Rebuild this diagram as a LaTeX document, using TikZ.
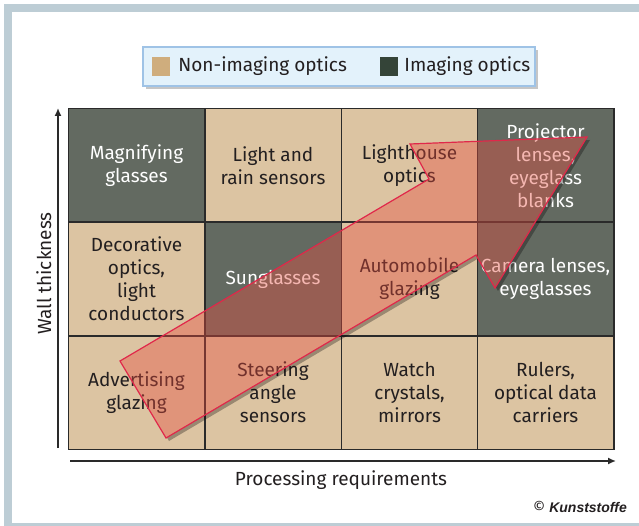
\documentclass[tikz,border=0pt]{standalone}
\usepackage{fontspec}
\setmainfont{Fira Sans}
\newfontfamily\logofont{Liberation Sans}
\usetikzlibrary{arrows.meta,positioning,shadows}
\definecolor{framegrey}{HTML}{BDCDD5}
\definecolor{cellTan}{HTML}{DCC4A2}
\definecolor{cellDark}{HTML}{636A61}
\definecolor{cellText}{HTML}{231F20}
\definecolor{gridline}{HTML}{2A2A2A}
\definecolor{swatchTan}{HTML}{CFAD7D}
\definecolor{swatchDark}{HTML}{344438}
\definecolor{legendFill}{HTML}{E3F2FB}
\definecolor{legendLine}{HTML}{9FC3E6}
\definecolor{arrowRed}{RGB}{230,76,62}
\definecolor{arrowLine}{HTML}{E0284A}
\tikzset{%
    >={Latex[length=8pt,width=7pt]},
    cell/.style={draw=gridline, line width=1.5pt, minimum width=136.5pt,
        minimum height=113.5pt, inner sep=0pt, align=center,
        font=\fontsize{19}{23}\selectfont},
    tancell/.style={cell, fill=cellTan, text=cellText},
    darkcell/.style={cell, fill=cellDark, text=white},
    swatch/.style={minimum width=18pt, minimum height=19pt, inner sep=0pt},
    legendtext/.style={inner sep=2pt, text=cellText, font=\fontsize{19}{23}\selectfont},
    axis/.style={line width=1.5pt, draw=gridline},
    axislabel/.style={text=cellText, font=\fontsize{19}{23}\selectfont}
}
\newcommand\trendpath{(120,361) -- (429,179) -- (410,144) -- (587,137) -- (495,288) -- (476,255) -- (166,438) -- cycle}

\begin{document}
\begin{tikzpicture}[x=1pt, y=-1pt]
  \useasboundingbox (0,0) rectangle (639,526);
  % frame
  \fill[framegrey] (4,4) rectangle (639,12);
  \fill[framegrey] (4,4) rectangle (12,526);
  \fill[framegrey] (4,523) rectangle (639,526);

  % legend
  \node[draw=legendLine, line width=1.5pt, fill=legendFill, minimum width=392pt, minimum height=39pt,
    drop shadow={shadow xshift=3pt, shadow yshift=-3pt, opacity=0.45}] (legend) at (339,66.5) {};
  \node[swatch, fill=swatchTan] (nonimgsw) at (161,66.5) {};
  \node[legendtext, right=6pt of nonimgsw] (nonimg) {Non-imaging optics};
  \node[swatch, fill=swatchDark] (imgsw) at (389,66.5) {};
  \node[legendtext, right=4pt of imgsw] (img) {Imaging optics};

  % grid of application fields
  \node[darkcell] (magnify) at (136.5,165.5) {Magnifying\\glasses};
  \node[tancell] (rainsens) at (273,165.5) {Light and\\rain sensors};
  \node[tancell] (lighthouse) at (409.5,165.5) {Lighthouse\\optics};
  \node[darkcell] (projector) at (545.5,165.5) {Projector\\lenses,\\eyeglass\\blanks};

  \node[tancell] (decor) at (136.5,279) {Decorative\\optics,\\light\\conductors};
  \node[darkcell] (sunglass) at (273,279) {Sunglasses};
  \node[tancell] (autoglaze) at (409.5,279) {Automobile\\glazing};
  \node[darkcell] (camera) at (545.5,279) {Camera lenses,\\eyeglasses};

  \node[tancell] (advert) at (136.5,392.5) {Advertising\\glazing};
  \node[tancell] (steering) at (273,392.5) {Steering\\angle\\sensors};
  \node[tancell] (watch) at (409.5,392.5) {Watch\\crystals,\\mirrors};
  \node[tancell] (rulers) at (545.5,392.5) {Rulers,\\optical data\\carriers};

  % trend arrow with its shadow
  \begin{scope}[even odd rule]
    \clip (0,0) rectangle (639,526) \trendpath;
    \fill[black, opacity=0.3, shift={(3,3)}] \trendpath;
  \end{scope}
  \filldraw[fill=arrowRed, fill opacity=0.4, draw=arrowLine, line width=1.2pt] \trendpath;

  % axes
  \coordinate (ybot) at (58,448);
  \coordinate (ytop) at (58,108);
  \coordinate (xleft) at (70,461);
  \coordinate (xright) at (616,461);
  \draw[axis, ->] (ybot) -- (ytop);
  \draw[axis, ->] (xleft) -- (xright);
  \node[axislabel, rotate=90, anchor=base] (wall) at (51,273.5) {Wall thickness};
  \node[axislabel, anchor=base] (process) at (341,485) {Processing requirements};

  \node[anchor=base east, inner sep=0pt, text=cellText] (credit) at (627,512)
    {\fontsize{15}{15}\selectfont\textcopyright\ \logofont\fontsize{14}{14}\selectfont\bfseries\itshape Kunststoffe};
\end{tikzpicture}
\end{document}
